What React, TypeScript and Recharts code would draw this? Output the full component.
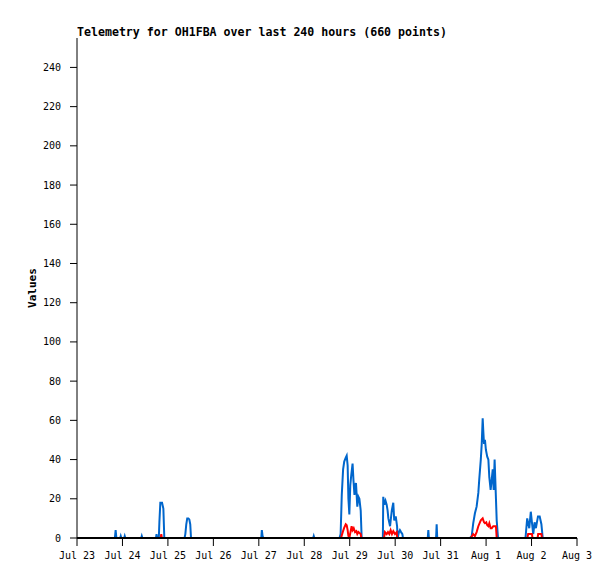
import React from "react"
import { LineChart, Line, XAxis, YAxis, ReferenceLine } from "recharts"

// hours since Jul 23 00:00
const dayLabels = ["Jul 23", "Jul 24", "Jul 25", "Jul 26", "Jul 27", "Jul 28", "Jul 29", "Jul 30", "Jul 31", "Aug 1", "Aug 2", "Aug 3"]
const xTicks = [0, 24, 48, 72, 96, 120, 144, 168, 192, 216, 240, 264]
const yTicks = [0, 20, 40, 60, 80, 100, 120, 140, 160, 180, 200, 220, 240]

const blueHours = [
    0, 20.0, 20.4, 20.8, 22.8, 23.1, 23.4, 24.9, 25.2, 25.5, 33.9, 34.2, 34.5, 41.7, 42.0, 42.3,
    43.2, 43.5, 44.0, 44.9, 45.6, 46.1,
    56.8, 57.2, 57.7, 58.2, 58.8, 59.3, 59.8, 60.2,
    97.3, 97.6, 98.0, 98.4, 124.7, 125.0, 125.3,
    138.6, 139.2, 139.8, 140.5, 141.1, 141.9, 142.4, 142.9, 143.3, 143.8, 144.3, 144.8, 145.5, 146.0, 146.5, 146.9, 147.3, 148.0, 148.6, 149.1, 149.8, 150.3,
    161.5, 161.7, 162.3, 162.9, 163.5, 164.0, 164.4, 165.3, 166.2, 167.0, 167.5, 168.3, 169.0, 169.3, 170.0, 170.5, 171.1, 171.8, 172.1,
    185.2, 185.5, 185.8, 189.6, 189.9, 190.2,
    207.5, 208.4, 209.2, 210.1, 211.0, 211.9, 212.4, 213.2, 213.7, 214.2, 214.5, 214.9, 215.4, 215.9, 216.6, 217.2, 217.7, 218.4, 219.0, 219.5, 220.0, 220.5, 221.1, 221.6, 222.3,
    236.8, 237.7, 238.8, 239.6, 240.2, 240.9, 241.6, 242.3, 243.4, 244.3, 245.2, 245.9,
]
const blueValues = [
    0, 0, 4, 0, 0, 1, 0, 0, 1, 0, 0, 1, 0, 0, 2, 0,
    0, 8, 18, 18, 15, 0,
    0, 2, 7, 10, 10, 9.5, 7, 0,
    0, 4, 1, 0, 0, 1, 0,
    0, 2, 22, 35, 39, 41, 42, 37, 20, 12, 27, 32, 38, 29, 22, 27, 28, 16, 21, 20, 14, 0,
    0, 21, 17, 19, 17, 14, 10, 6, 14, 18, 9, 11, 6, 0, 3, 4, 3, 2, 0,
    0, 4, 0, 0, 7, 0,
    0, 1, 7.5, 12.6, 16, 23, 30, 40, 48, 61, 55, 48, 50, 45, 41.5, 40, 31, 24.5, 30, 35, 24.5, 40, 23, 9, 0,
    0, 10, 5, 13.4, 8, 2, 8, 5, 11, 11, 7, 0,
]

const redHours = [
    0, 44.2, 44.5, 44.8,
    139.4, 140.3, 141.0, 141.9, 142.4, 142.9, 143.3, 143.9, 144.4, 145.0, 145.5, 146.1, 146.8, 147.5, 148.0, 148.6, 149.8, 150.1,
    162.1, 162.6, 163.5, 164.2, 164.9, 165.6, 166.3, 167.0, 167.9, 168.8, 169.1,
    207.9, 209.2, 210.1, 211.0, 211.9, 213.2, 214.2, 214.9, 215.4, 216.1, 216.6, 217.2, 217.7, 218.4, 219.0, 219.8, 221.2, 221.6,
    237.8, 238.2, 240.2, 240.5, 243.2, 243.5, 245.2, 245.5,
]
const redValues = [
    0, 0, 2, 0,
    0, 3, 5, 7, 6.5, 4, 1, 0.5, 3, 6, 4, 5, 3, 3.5, 2, 3, 2, 0,
    0, 3, 2, 3, 2, 4, 2, 3.5, 2, 3, 0,
    0, 2, 1, 3, 6, 9, 10, 8, 7.5, 8, 6.5, 6, 7.5, 5, 5, 6, 6, 0,
    0, 2, 2, 0, 0, 2, 2, 0,
]

const blueData = blueHours.map((h, i) => ({ h, v: blueValues[i] }))
const redData = redHours.map((h, i) => ({ h, v: redValues[i] }))

const mono = "'DejaVu Sans Mono', monospace"

export default function App() {
    return (
        <div style={{ position: "absolute", left: 0, top: 0, width: 615, height: 579, background: "#fff" }}>
            <div
                style={{
                    position: "absolute",
                    left: 77,
                    top: 26,
                    fontFamily: mono,
                    fontWeight: "bold",
                    fontSize: 11.6,
                    lineHeight: "12px",
                    whiteSpace: "nowrap",
                }}
            >
                Telemetry for OH1FBA over last 240 hours (660 points)
            </div>
            <div
                style={{
                    position: "absolute",
                    left: 32,
                    top: 288,
                    transform: "translate(-50%, -50%) rotate(-90deg)",
                    fontFamily: mono,
                    fontWeight: "bold",
                    fontSize: 11,
                    lineHeight: "11px",
                    whiteSpace: "nowrap",
                }}
            >
                Values
            </div>
            <LineChart width={615} height={579} margin={{ top: 38, right: 38, bottom: 11, left: 27 }}>
                <XAxis
                    dataKey="h"
                    type="number"
                    domain={[0, 264]}
                    ticks={xTicks}
                    tickFormatter={(v: number) => dayLabels[xTicks.indexOf(v)]}
                    height={30}
                    tickSize={8}
                    tickMargin={6}
                    axisLine={{ stroke: "#000" }}
                    tickLine={{ stroke: "#000" }}
                    tick={{ fill: "#000", fontSize: 10, fontFamily: mono }}
                    allowDataOverflow
                    interval={0}
                />
                <XAxis xAxisId="top" orientation="top" type="number" domain={[0, 264]} height={0} tick={false} tickLine={false} axisLine={{ stroke: "#444" }} />
                <YAxis
                    type="number"
                    domain={[0, 255]}
                    ticks={yTicks}
                    width={50}
                    tickSize={7}
                    tickMargin={9}
                    axisLine={{ stroke: "#000" }}
                    tickLine={{ stroke: "#000" }}
                    tick={{ fill: "#000", fontSize: 10, fontFamily: mono }}
                    allowDataOverflow
                    interval={0}
                />
                <YAxis yAxisId="right" orientation="right" domain={[0, 255]} width={0} tick={false} tickLine={false} axisLine={{ stroke: "#444" }} />
                <Line data={blueData} dataKey="v" type="linear" stroke="#0066cc" strokeWidth={2} strokeLinejoin="miter" dot={false} isAnimationActive={false} />
                <Line data={redData} dataKey="v" type="linear" stroke="#ff0000" strokeWidth={2} strokeLinejoin="miter" dot={false} isAnimationActive={false} />
                <ReferenceLine y={0} stroke="#000" strokeWidth={2} />
            </LineChart>
        </div>
    )
}
